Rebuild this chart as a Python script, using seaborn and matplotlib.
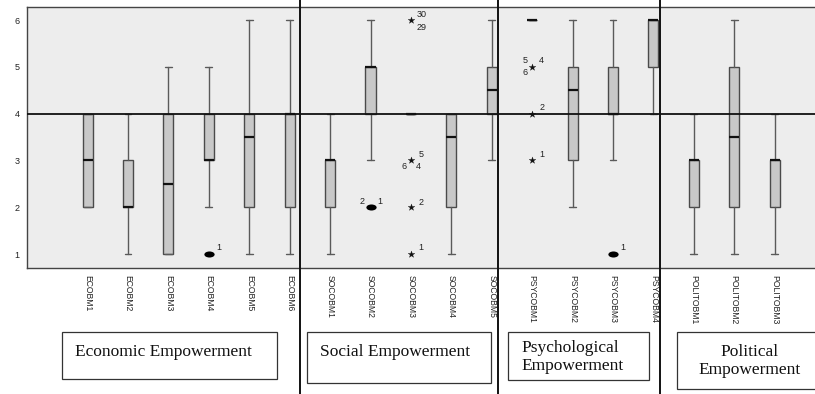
import matplotlib
matplotlib.use("Agg")
import matplotlib.pyplot as plt
import pandas as pd
import seaborn as sns
from matplotlib.path import Path
from matplotlib.transforms import Affine2D
from matplotlib.patches import Rectangle
from matplotlib.lines import Line2D

# ---- item-level box statistics -------------------------------------------
items = ["ECOBM1", "ECOBM2", "ECOBM3", "ECOBM4", "ECOBM5", "ECOBM6",
         "SOCOBM1", "SOCOBM2", "SOCOBM3", "SOCOBM4", "SOCOBM5",
         "PSYCOBM1", "PSYCOBM2", "PSYCOBM3", "PSYCOBM4",
         "POLITOBM1", "POLITOBM2", "POLITOBM3"]
q1 = [2, 2, 1, 3, 2, 2, 2, 4, 4, 2, 4, 6, 3, 4, 5, 2, 2, 2]
median = [3, 2, 2.5, 3, 3.5, 4, 3, 5, 4, 3.5, 4.5, 6, 4.5, 4, 6, 3, 3.5, 3]
q3 = [4, 3, 4, 4, 4, 4, 3, 5, 4, 4, 5, 6, 5, 5, 6, 3, 5, 3]
whisker_low = [2, 1, 1, 2, 1, 1, 1, 3, 4, 1, 3, 6, 2, 3, 4, 1, 1, 1]
whisker_high = [4, 4, 5, 5, 6, 6, 4, 6, 4, 4, 6, 6, 6, 6, 6, 4, 6, 4]

# ---- outlying cases ------------------------------------------------------
out_item = ["ECOBM4", "SOCOBM2", "SOCOBM3", "SOCOBM3", "SOCOBM3", "SOCOBM3",
            "PSYCOBM1", "PSYCOBM1", "PSYCOBM1", "PSYCOBM3"]
out_value = [1, 2, 6, 3, 2, 1, 5, 4, 3, 1]
out_kind = ["mild", "mild", "extreme", "extreme", "extreme", "extreme",
            "extreme", "extreme", "extreme", "mild"]
out_cases = [["1"], ["2", "1"], ["30", "29"], ["5", "6", "4"], ["2"], ["1"],
             ["5", "4", "6"], ["2"], ["1"], ["1"]]

groups = ["Economic Empowerment", "Social Empowerment",
          "Psychological\nEmpowerment", "Political\nEmpowerment"]
y_ticks = [1, 2, 3, 4, 5, 6]

# pixel offsets of case numbers around each outlier marker (dx right, dy up)
case_offsets = [
    [(10, 6)],
    [(-8, 6), (9, 6)],
    [(11, 6), (11, -7)],
    [(10, 6), (-7, -6), (7, -6)],
    [(10, 5)],
    [(10, 6)],
    [(-7, 6), (9, 6), (-7, -6)],
    [(10, 6)],
    [(10, 6)],
    [(10, 6)],
]

W, H = 815, 394
sns.set_theme(style="white")
plt.rcParams["font.family"] = ["Liberation Sans", "DejaVu Sans"]

fig = plt.figure(figsize=(W / 100, H / 100), dpi=100)
fig.patch.set_facecolor("white")

ax_left, ax_top, ax_bottom = 27, 7, 268
ax = fig.add_axes([ax_left / W, (H - ax_bottom) / H,
                   (W - ax_left) / W + 0.01, (ax_bottom - ax_top) / H])
ax.set_facecolor("#ededed")

positions = list(range(len(items)))
stats = [dict(label=n, q1=a, med=m, q3=b, whislo=lo, whishi=hi, fliers=[])
         for n, a, m, b, lo, hi in zip(items, q1, median, q3,
                                       whisker_low, whisker_high)]
ax.bxp(stats, positions=positions, widths=0.25, capwidths=0.17,
       patch_artist=True, showfliers=False,
       boxprops=dict(facecolor="#c8c8c8", edgecolor="#4a4a4a", linewidth=1.0),
       medianprops=dict(color="#111111", linewidth=1.6),
       whiskerprops=dict(color="#5a5a5a", linewidth=1.0),
       capprops=dict(color="#5a5a5a", linewidth=1.0),
       zorder=3)

# reference line at the scale midpoint
ax.axhline(4, color="#111111", linewidth=1.3, zorder=4)

# outliers: filled ellipse for mild, star for extreme
ellipse = Path.unit_circle().transformed(Affine2D().scale(1.7, 1.0))
df_out = pd.DataFrame({"pos": [items.index(n) for n in out_item],
                       "value": out_value, "kind": out_kind})
sns.scatterplot(data=df_out[df_out.kind == "mild"], x="pos", y="value",
                marker=ellipse, s=55, color="black", edgecolor="black",
                linewidth=0, ax=ax, zorder=5, legend=False)
sns.scatterplot(data=df_out[df_out.kind == "extreme"], x="pos", y="value",
                marker="*", s=26, color="#111111", edgecolor="#111111",
                linewidth=0.2, ax=ax, zorder=5, legend=False)
for name, val, cases, offs in zip(out_item, out_value, out_cases, case_offsets):
    for txt, (dx, dy) in zip(cases, offs):
        ax.annotate(txt, (items.index(name), val),
                    xytext=(dx * 0.72, dy * 0.72), textcoords="offset points",
                    ha="center", va="center", fontsize=6.5, color="#222222",
                    zorder=6)

ax.set_xlim(-1.5, (W - 87) / 40)
ax.set_ylim(1 - 14 / 46.8, 6 + 13 / 46.8)
ax.set_yticks(y_ticks)
ax.set_yticklabels([str(v) for v in y_ticks], fontsize=6.5)
ax.set_xticks(positions)
ax.set_xticklabels(items, rotation=270, fontsize=6.2, va="top", ha="center")
ax.tick_params(axis="both", direction="out", length=4, width=0.9,
               color="#333333", pad=1.5, labelcolor="#222222")
ax.tick_params(axis="x", pad=1)
ax.set_xlabel("")
ax.set_ylabel("")
for side in ["left", "top", "bottom"]:
    ax.spines[side].set_color("#444444")
    ax.spines[side].set_linewidth(1.0)
ax.spines["right"].set_visible(False)


def fx(px):
    return px / W


def fy(py):
    return (H - py) / H


# full-height dividers between the empowerment dimensions
for xp in [300, 498, 660]:
    fig.add_artist(Line2D([fx(xp), fx(xp)], [0, 1], color="#111111",
                          linewidth=1.4, transform=fig.transFigure, zorder=10))

# dimension caption boxes
boxes = [(62, 332, 277, 379), (307, 332, 491, 383),
         (508, 332, 649, 380), (677, 332, 820, 389)]
text_pos = [(75, 352, "left"), (320, 352, "left"),
            (521, 357, "left"), (750, 361, "center")]
for name, (x0, y0, x1, y1), (tx, ty, ha) in zip(groups, boxes, text_pos):
    fig.add_artist(Rectangle((fx(x0), fy(y1)), fx(x1) - fx(x0),
                             fy(y0) - fy(y1), transform=fig.transFigure,
                             facecolor="white", edgecolor="#333333",
                             linewidth=0.9, zorder=9))
    fig.text(fx(tx), fy(ty), name, ha=ha, va="center", fontsize=12.5,
             family=["Liberation Serif", "DejaVu Serif"], color="#111111",
             linespacing=1.15, zorder=11)

fig.savefig("out.png", dpi=100, facecolor="white")
